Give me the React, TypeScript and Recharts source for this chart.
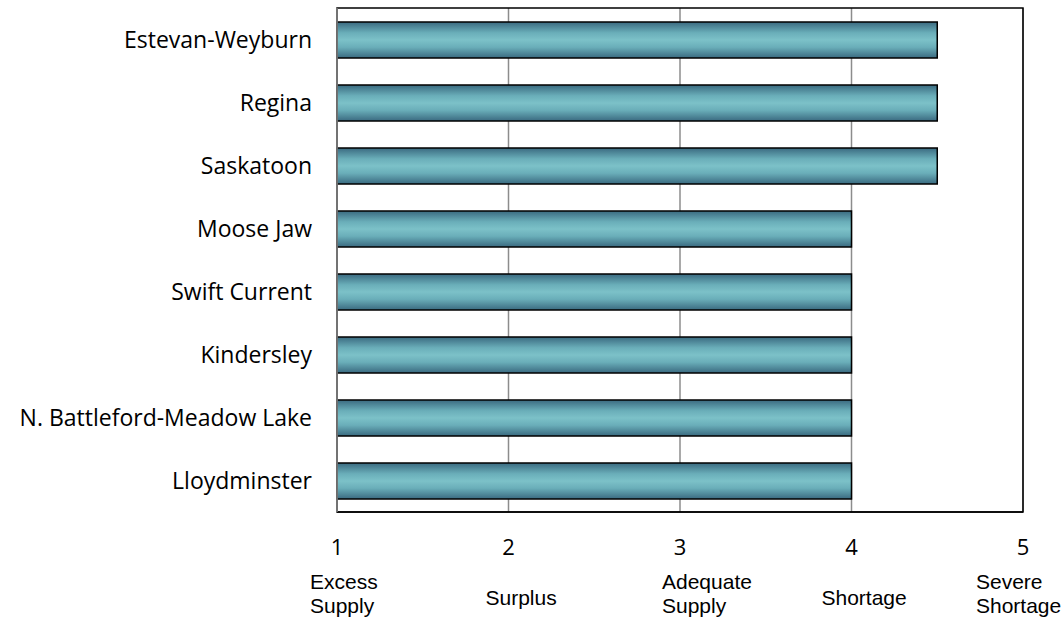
import React from 'react';
import { BarChart, Bar, XAxis, YAxis, CartesianGrid, ReferenceArea } from 'recharts';

const regions = [
  'Estevan-Weyburn',
  'Regina',
  'Saskatoon',
  'Moose Jaw',
  'Swift Current',
  'Kindersley',
  'N. Battleford-Meadow Lake',
  'Lloydminster',
];
const ratings = [4.5, 4.5, 4.5, 4, 4, 4, 4, 4];
const tickValues = [1, 2, 3, 4, 5];
const tickDescriptions = [
  ['Excess', 'Supply'],
  ['Surplus'],
  ['Adequate', 'Supply'],
  ['Shortage'],
  ['Severe', 'Shortage'],
];

const data = regions.map((r, i) => ({ region: r, value: ratings[i] }));

// horizontal placement of the description text boxes relative to each tick (layout only)
const descLeftOffset = [-27, -23, -18, -30, -47];

const XTick = (props: any) => {
  const { x, y, payload, index } = props;
  const lines = tickDescriptions[index] || [];
  const left = x + (descLeftOffset[index] ?? -20);
  return (
    <g>
      <text x={x} y={y + 43} textAnchor="middle" fontFamily="Open Sans, sans-serif" fontSize={22} fill="#000">
        {payload.value}
      </text>
      {lines.map((l, i) => (
        <text
          key={i}
          x={left}
          y={lines.length === 1 ? y + 93 : y + 77 + i * 24}
          textAnchor="start"
          fontFamily="Liberation Sans, Arial, sans-serif"
          fontSize={21}
          fill="#000"
        >
          {l}
        </text>
      ))}
    </g>
  );
};

export default function App() {
  return (
    <div style={{ position: 'absolute', left: 0, top: 0, width: 1063, height: 618, background: '#fff' }}>
      <BarChart
        width={1063}
        height={618}
        data={data}
        layout="vertical"
        margin={{ top: 8, right: 40, bottom: 0, left: 0 }}
        barCategoryGap={13}
      >
        <defs>
          <linearGradient id="barGrad" x1="0" y1="0" x2="0" y2="1">
            <stop offset="0%" stopColor="#3a6a80" />
            <stop offset="30%" stopColor="#6aaeb9" />
            <stop offset="50%" stopColor="#7cc1c8" />
            <stop offset="70%" stopColor="#6aaeb9" />
            <stop offset="100%" stopColor="#3a6a80" />
          </linearGradient>
        </defs>
        <CartesianGrid horizontal={false} vertical={true} stroke="#8c8c8c" strokeWidth={1.5} />
        <ReferenceArea x1={1} x2={5} fill="none" stroke="#000" strokeWidth={1.5} ifOverflow="visible" />
        <XAxis
          type="number"
          domain={[1, 5]}
          ticks={tickValues}
          height={106}
          tickSize={0}
          tickMargin={0}
          axisLine={{ stroke: '#000', strokeWidth: 1.5 }}
          tickLine={false}
          tick={<XTick />}
          interval={0}
        />
        <YAxis
          type="category"
          dataKey="region"
          width={337}
          tickSize={0}
          tickMargin={25}
          tickLine={false}
          axisLine={{ stroke: '#8c8c8c', strokeWidth: 1.5 }}
          tick={{ fill: '#000', fontSize: 23, fontFamily: 'Open Sans, sans-serif' }}
          interval={0}
        />
        <Bar dataKey="value" fill="url(#barGrad)" stroke="#000" strokeWidth={1.5} barSize={36} isAnimationActive={false} />
      </BarChart>
    </div>
  );
}
